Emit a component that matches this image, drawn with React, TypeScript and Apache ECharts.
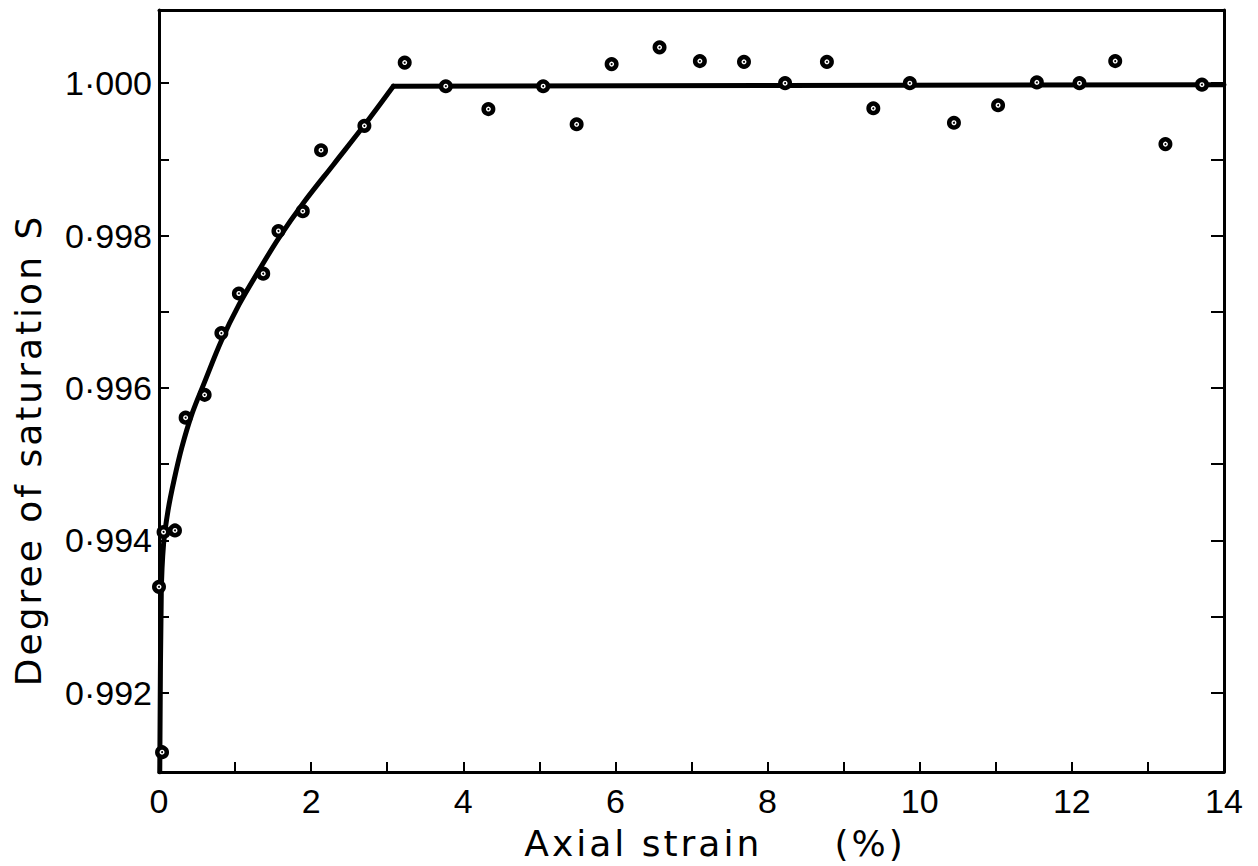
import React, { useEffect, useRef } from "react";
import * as echarts from "echarts";

// Measured data points (axial strain %, degree of saturation S)
const strainPts = [0.04, 0.0, 0.06, 0.21, 0.35, 0.6, 0.82, 1.05, 1.37, 1.57, 1.89, 2.13, 2.7, 3.23, 3.77, 4.33, 5.05, 5.49, 5.95, 6.58, 7.11, 7.69, 8.23, 8.78, 9.39, 9.87, 10.45, 11.03, 11.54, 12.1, 12.57, 13.23, 13.71];
const satPts = [0.99122, 0.99339, 0.99411, 0.99413, 0.99561, 0.99591, 0.99672, 0.99724, 0.9975, 0.99806, 0.99832, 0.99912, 0.99944, 1.00027, 0.99996, 0.99966, 0.99996, 0.99946, 1.00025, 1.00047, 1.00029, 1.00028, 1.0, 1.00028, 0.99967, 1.0, 0.99948, 0.99971, 1.00001, 1.0, 1.00029, 0.9992, 0.99998];

// Fitted curve: rising part, then plateau (corner at index cornerIdx)
const curveStrain = [0.01, 0.03, 0.06, 0.12, 0.2, 0.3, 0.43, 0.6, 0.82, 1.05, 1.3, 1.57, 1.9, 2.3, 2.7, 3.08, 8.23, 14];
const curveSat = [0.99096, 0.9933, 0.99395, 0.9944, 0.9948, 0.99522, 0.99565, 0.99608, 0.99662, 0.99709, 0.99752, 0.99796, 0.99843, 0.99894, 0.99945, 0.99996, 0.99997, 0.99998];
const cornerIdx = 15;

// Axis ticks
const yLabelValues = [0.992, 0.994, 0.996, 0.998, 1.0];
const yTickValues = [0.992, 0.993, 0.994, 0.995, 0.996, 0.997, 0.998, 0.999, 1.0];
const yMin = 0.99096;
const yMax = 1.00096;

const xTitle = "Axial strain\u00a0\u00a0\u00a0\u00a0\u00a0(%)";
const yTitle = "Degree of saturation S";

export default function App() {
  const ref = useRef<HTMLDivElement>(null);

  useEffect(() => {
    if (!ref.current) return;
    const chart = echarts.init(ref.current, undefined, { renderer: "svg" });
    const pts = strainPts.map((x, i) => [x, satPts[i]]);
    const curve = curveStrain.map((x, i) => [x, curveSat[i]]);
    const rising = curve.slice(0, cornerIdx + 1);
    const plateau = curve.slice(cornerIdx);
    const axisLineStyle = { color: "#000", width: 3 };
    const labelFont = { fontSize: 34, fontFamily: "Liberation Sans", color: "#000" };
    const curveLine = { color: "#000", width: 5, cap: "round", join: "round" };

    chart.setOption({
      animation: false,
      backgroundColor: "#ffffff",
      grid: { left: 159, right: 34, top: 10, bottom: 94, show: false },
      xAxis: [
        {
          type: "value",
          min: 0,
          max: 14,
          interval: 1,
          position: "bottom",
          axisLine: { show: true, onZero: false, lineStyle: axisLineStyle },
          axisTick: { show: true, inside: true, length: 10, lineStyle: { color: "#000", width: 2 } },
          axisLabel: {
            ...labelFont,
            margin: 12,
            formatter: (v: number) => (v % 2 === 0 ? String(v) : ""),
          },
          splitLine: { show: false },
        },
        {
          type: "value",
          min: 0,
          max: 14,
          position: "top",
          axisLine: { show: true, onZero: false, lineStyle: axisLineStyle },
          axisTick: { show: false },
          axisLabel: { show: false },
          splitLine: { show: false },
        },
      ],
      yAxis: [
        {
          type: "value",
          min: yMin,
          max: yMax,
          position: "left",
          axisLine: { show: true, onZero: false, lineStyle: axisLineStyle },
          axisTick: {
            show: true,
            inside: true,
            length: 10,
            customValues: yTickValues,
            lineStyle: { color: "#000", width: 2 },
          },
          axisLabel: {
            ...labelFont,
            margin: 7,
            customValues: yLabelValues,
            formatter: (v: number) => v.toFixed(3).replace(".", "\u00b7"),
          },
          splitLine: { show: false },
        },
        {
          type: "value",
          min: yMin,
          max: yMax,
          position: "right",
          axisLine: { show: true, onZero: false, lineStyle: axisLineStyle },
          axisTick: {
            show: true,
            inside: true,
            length: 13,
            customValues: yTickValues,
            lineStyle: { color: "#000", width: 2 },
          },
          axisLabel: { show: false },
          splitLine: { show: false },
        },
      ],
      graphic: [
        {
          type: "text",
          x: 715,
          y: 843,
          style: {
            text: xTitle,
            font: '36px "DejaVu Sans"',
            fill: "#000",
            align: "center",
            verticalAlign: "middle",
          },
        },
        {
          type: "text",
          x: 28,
          y: 450,
          rotation: Math.PI / 2,
          style: {
            text: yTitle,
            font: '36px "DejaVu Sans"',
            fill: "#000",
            align: "center",
            verticalAlign: "middle",
          },
        },
      ],
      series: [
        {
          type: "line",
          data: rising,
          xAxisIndex: 0,
          yAxisIndex: 0,
          showSymbol: false,
          smooth: 0.35,
          lineStyle: curveLine,
          z: 2,
        },
        {
          type: "line",
          data: plateau,
          xAxisIndex: 0,
          yAxisIndex: 0,
          showSymbol: false,
          smooth: false,
          lineStyle: curveLine,
          z: 2,
        },
        {
          type: "scatter",
          data: pts,
          xAxisIndex: 0,
          yAxisIndex: 0,
          symbol: "circle",
          symbolSize: 9.5,
          itemStyle: { color: "#fff", borderColor: "#000", borderWidth: 4.5, opacity: 1 },
          z: 3,
        },
        {
          type: "scatter",
          data: pts,
          xAxisIndex: 0,
          yAxisIndex: 0,
          symbol: "circle",
          symbolSize: 2,
          itemStyle: { color: "#000", opacity: 1 },
          z: 4,
        },
      ],
    });
    return () => chart.dispose();
  }, []);

  return (
    <>
      <style>{`#root text[style*="36px"] { letter-spacing: 3px; }`}</style>
      <div
        ref={ref}
        style={{ position: "fixed", left: 0, top: 0, width: 1258, height: 866, background: "#fff" }}
      />
    </>
  );
}
